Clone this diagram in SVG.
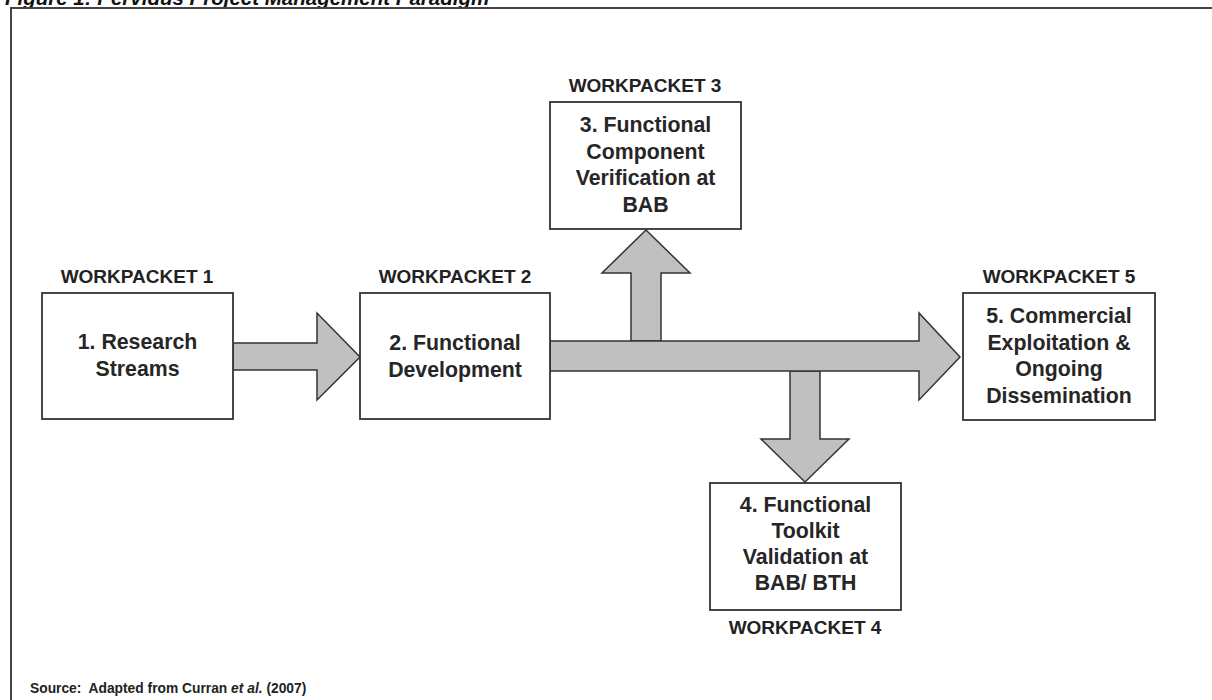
<svg xmlns="http://www.w3.org/2000/svg" width="1212" height="700" viewBox="0 0 1212 700">
  <style>
    .frame { fill: none; stroke: #444; stroke-width: 2; }
    .box { fill: #fff; stroke: #333; stroke-width: 1.8; }
    .arrow { fill: #c0c0c0; stroke: #333; stroke-width: 1.5; stroke-linejoin: miter; }
    .title { font-family: "Liberation Sans", Arial, sans-serif; font-weight: bold; font-style: italic; font-size: 20.5px; fill: #111; }
    .wp { font-family: "Liberation Sans", Arial, sans-serif; font-weight: bold; font-size: 19px; fill: #222; text-anchor: middle; }
    .txt { font-family: "Liberation Sans", Arial, sans-serif; font-weight: bold; font-size: 21.3px; fill: #262626; text-anchor: middle; }
    .src { font-family: "Liberation Sans", Arial, sans-serif; font-weight: bold; font-size: 13.8px; fill: #222; white-space: pre; }
  </style>

  <rect width="1212" height="700" fill="#fff"/>

  <!-- caption, partly above the page edge -->
  <text class="title" x="5" y="5">Figure 1: Pervidus Project Management Paradigm</text>

  <!-- figure frame -->
  <path class="frame" d="M11,700 V8 H1212"/>

  <!-- connectors: block arrows between workpackets -->
  <g id="connectors">
    <polygon id="arrow-1-2" class="arrow" points="233,343 317,343 317,313 360,357 317,400 317,370 233,370"/>
    <polygon id="arrow-2-3" class="arrow" points="631,341 631,273 602,273 646,230 690,273 661,273 661,341"/>
    <polygon id="arrow-2-4" class="arrow" points="790,371 790,439 761,439 805,482 849,439 820,439 820,371"/>
    <polygon id="arrow-2-5" class="arrow" points="550,341 919,341 919,313 960,357 919,400 919,371 550,371"/>
  </g>

  <g id="wp1">
    <text class="wp" x="137" y="283">WORKPACKET 1</text>
    <rect class="box" x="42" y="293" width="191" height="126"/>
    <text class="txt" x="137.5" y="349">1. Research</text>
    <text class="txt" x="137.5" y="376">Streams</text>
  </g>

  <g id="wp2">
    <text class="wp" x="455" y="283">WORKPACKET 2</text>
    <rect class="box" x="360" y="293" width="190" height="126"/>
    <text class="txt" x="455" y="350">2. Functional</text>
    <text class="txt" x="455" y="376.5">Development</text>
  </g>

  <g id="wp3">
    <text class="wp" x="645" y="92">WORKPACKET 3</text>
    <rect class="box" x="550" y="102" width="191" height="127"/>
    <text class="txt" x="645.5" y="132">3. Functional</text>
    <text class="txt" x="645.5" y="158.5">Component</text>
    <text class="txt" x="645.5" y="185">Verification at</text>
    <text class="txt" x="645.5" y="211.5">BAB</text>
  </g>

  <g id="wp4">
    <rect class="box" x="710" y="483" width="191" height="127"/>
    <text class="txt" x="805.5" y="512">4. Functional</text>
    <text class="txt" x="805.5" y="538">Toolkit</text>
    <text class="txt" x="805.5" y="564">Validation at</text>
    <text class="txt" x="805.5" y="590">BAB/ BTH</text>
    <text class="wp" x="805" y="634">WORKPACKET 4</text>
  </g>

  <g id="wp5">
    <text class="wp" x="1059" y="283">WORKPACKET 5</text>
    <rect class="box" x="963" y="293" width="192" height="127"/>
    <text class="txt" x="1059" y="323">5. Commercial</text>
    <text class="txt" x="1059" y="349.5">Exploitation &amp;</text>
    <text class="txt" x="1059" y="376">Ongoing</text>
    <text class="txt" x="1059" y="402.5">Dissemination</text>
  </g>

  <text class="src" x="30" y="693" xml:space="preserve">Source:  Adapted from Curran <tspan font-style="italic">et al.</tspan> (2007)</text>
</svg>
